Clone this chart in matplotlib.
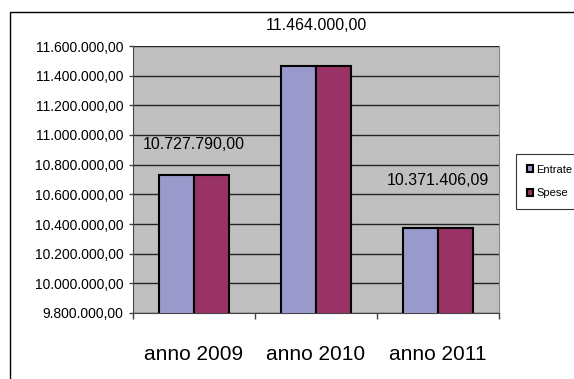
import numpy as np
import matplotlib.pyplot as plt
from matplotlib.patches import Rectangle
from matplotlib.ticker import FuncFormatter, FixedLocator

plt.rcParams['font.family'] = ['Liberation Sans', 'DejaVu Sans']

anni = ["anno 2009", "anno 2010", "anno 2011"]
entrate = [10727790.00, 11464000.00, 10371406.09]
spese = [10727790.00, 11464000.00, 10371406.09]
etichette = ["10.727.790,00", "11.464.000,00", "10.371.406,09"]
# offset (points) of each value label above its bar, as in the original
label_offset = [22, 29.5, 34.5]


def euro(v, pos=None):
    s = "{:,.2f}".format(v)
    return s.replace(",", "X").replace(".", ",").replace("X", ".")


fig = plt.figure(figsize=(5.74, 3.79), dpi=100)
fig.patch.set_facecolor("white")
ax = fig.add_axes([133 / 574, 1 - 313 / 379, 366 / 574, 267 / 379])
ax.set_facecolor("#C0C0C0")

x = np.arange(len(anni))
w = 0.287
ax.bar(x - w / 2, entrate, w, color="#9999CC", edgecolor="black", linewidth=1.5,
       label="Entrate", zorder=3)
ax.bar(x + w / 2, spese, w, color="#993366", edgecolor="black", linewidth=1.5,
       label="Spese", zorder=3)

for i in range(len(anni)):
    ax.annotate(etichette[i], (x[i], entrate[i]), xytext=(0, label_offset[i]),
                textcoords="offset points", ha="center", va="center",
                fontsize=11.5, color="black", annotation_clip=False)

ax.set_xlim(-0.5, 2.5)
ax.set_ylim(9800000, 11600000)
ax.set_yticks(np.arange(9800000, 11600001, 200000))
ax.yaxis.set_major_formatter(FuncFormatter(euro))
ax.grid(axis="y", color="#222222", linewidth=1, zorder=1)

ax.set_xticks(x)
ax.set_xticklabels(anni, fontsize=15)
ax.xaxis.set_minor_locator(FixedLocator([-0.5, 0.5, 1.5, 2.5]))
ax.tick_params(axis="x", which="major", length=0, pad=23)
ax.tick_params(axis="x", which="minor", length=4, width=1, color="#444444", direction="out")
ax.tick_params(axis="y", length=3, width=1, color="#444444", pad=4, labelsize=10)

ax.spines["top"].set_visible(False)
ax.spines["right"].set_color("#888888")
ax.spines["left"].set_color("#444444")
ax.spines["bottom"].set_color("#444444")

leg = ax.legend(loc="upper left", bbox_to_anchor=(516 / 574, 1 - 154 / 379),
                bbox_transform=fig.transFigure, fontsize=8, frameon=True,
                fancybox=False, edgecolor="black", handlelength=0.55,
                handleheight=0.55, handletextpad=0.35, borderaxespad=0,
                borderpad=0.95, labelspacing=1.25)
leg.get_frame().set_linewidth(0.8)

# outer chart frame (runs off the right and bottom edges)
fig.add_artist(Rectangle((10 / 574, -0.1), 1.0, 1.1 - 12 / 379,
                         transform=fig.transFigure, fill=False,
                         edgecolor="black", linewidth=1))

fig.savefig("out.png", dpi=100)
